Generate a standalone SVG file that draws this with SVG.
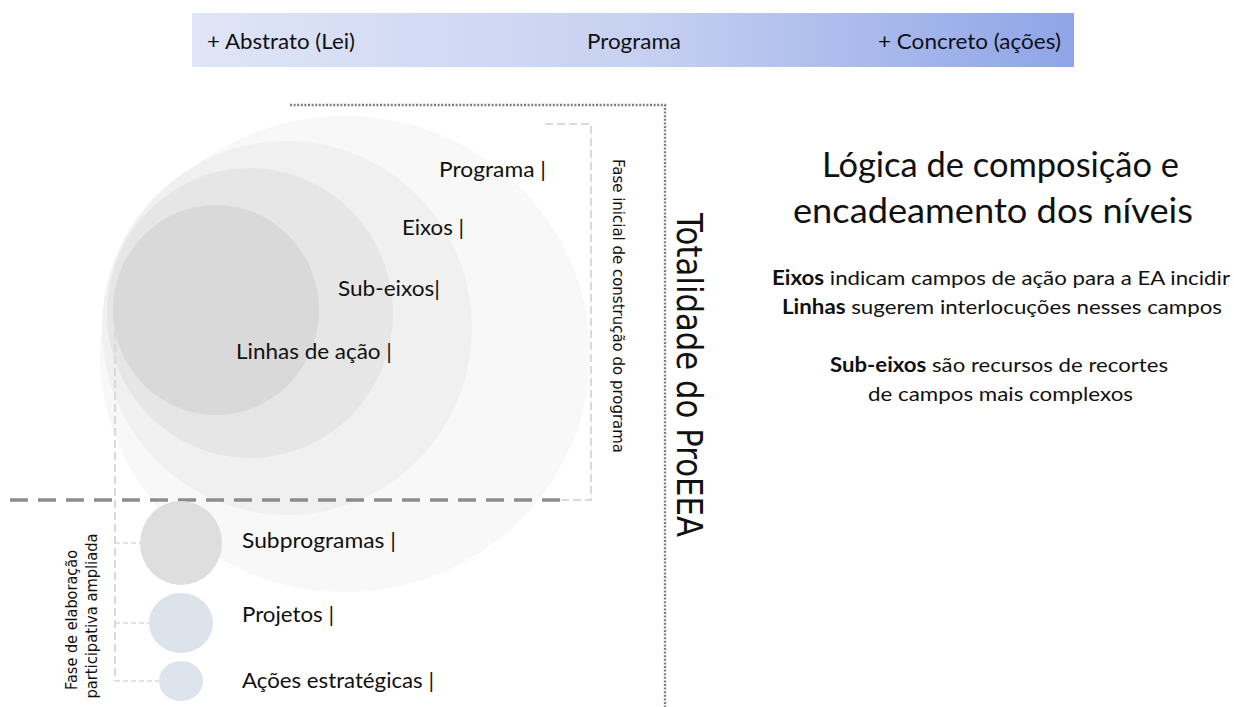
<svg xmlns="http://www.w3.org/2000/svg" width="1234" height="707" viewBox="0 0 1234 707">
<defs>
<linearGradient id="barGrad" x1="0" y1="0" x2="1" y2="0">
<stop offset="0" stop-color="#e0e5f7"/>
<stop offset="0.5" stop-color="#c7d1f1"/>
<stop offset="1" stop-color="#8fa5e7"/>
</linearGradient>
</defs>
<style>
.lbl{font-family:Lato,"Liberation Sans",sans-serif;font-size:21px;fill:#111;}
.body{font-family:Lato,"Liberation Sans",sans-serif;font-size:20px;fill:#111;}
.title{font-family:Lato,"Liberation Sans",sans-serif;font-weight:normal;font-size:35px;fill:#111;}
.geo{font-family:"DejaVu Sans","Open Sans",sans-serif;fill:#111;}
.b{font-weight:bold;}
.lightdash{fill:none;stroke:#d9d9d9;stroke-width:2;stroke-dasharray:8 4;}
.branch{fill:none;stroke:#d9d9d9;stroke-width:1.5;stroke-dasharray:5 3;}
</style>
<rect width="1234" height="707" fill="#ffffff"/>

<g id="bar">
<rect x="192" y="13" width="882" height="54" fill="url(#barGrad)"/>
<text class="lbl" x="207" y="49" textLength="148" lengthAdjust="spacingAndGlyphs">+ Abstrato (Lei)</text>
<text class="lbl" x="587" y="49" textLength="94" lengthAdjust="spacingAndGlyphs">Programa</text>
<text class="lbl" x="878" y="49" textLength="183" lengthAdjust="spacingAndGlyphs">+ Concreto (ações)</text>
</g>

<g id="circles">
<g id="programa">
<ellipse cx="345" cy="354" rx="245" ry="238" fill="#f8f8f8"/>
</g>
<g id="eixos">
<ellipse cx="287" cy="328" rx="185" ry="187" fill="#f0f0f0"/>
</g>
<g id="subeixos">
<ellipse cx="250" cy="313" rx="143" ry="145" fill="#e6e6e6"/>
</g>
<g id="linhas">
<ellipse cx="216" cy="310" rx="103" ry="105" fill="#d9d9d9"/>
</g>
</g>

<g id="connectors">
<polyline class="lightdash" points="545,124 591,124 591,500 560,500"/>
<line x1="10" y1="500" x2="563" y2="500" stroke="#8c8c8c" stroke-width="3.5" stroke-dasharray="18 10"/>
<polyline fill="none" stroke="#808080" stroke-width="2.4" stroke-dasharray="2 1.6" points="290,105 665,105 665,707"/>
<line class="lightdash" x1="115" y1="332" x2="115" y2="681"/>
<line class="branch" x1="115" y1="543" x2="140" y2="543"/>
<line class="branch" x1="115" y1="623" x2="149" y2="623"/>
<line class="branch" x1="115" y1="681" x2="159" y2="681"/>
</g>

<g id="label-programa"><text class="lbl" x="439" y="177" textLength="107" lengthAdjust="spacingAndGlyphs">Programa |</text></g>
<g id="label-eixos"><text class="lbl" x="402" y="235" textLength="62" lengthAdjust="spacingAndGlyphs">Eixos |</text></g>
<g id="label-subeixos"><text class="lbl" x="338" y="296" textLength="102" lengthAdjust="spacingAndGlyphs">Sub-eixos|</text></g>
<g id="label-linhas"><text class="lbl" x="236" y="359" textLength="156" lengthAdjust="spacingAndGlyphs">Linhas de ação |</text></g>

<g id="subprogramas">
<ellipse cx="181" cy="543" rx="41" ry="42" fill="#dedede"/>
<text class="lbl" x="242" y="548" textLength="154" lengthAdjust="spacingAndGlyphs">Subprogramas |</text>
</g>
<g id="projetos">
<ellipse cx="181" cy="623" rx="32" ry="30" fill="#dde3ea"/>
<text class="lbl" x="242" y="622" textLength="92" lengthAdjust="spacingAndGlyphs">Projetos |</text>
</g>
<g id="acoes">
<ellipse cx="181" cy="681" rx="22" ry="20" fill="#dee4eb"/>
<text class="lbl" x="242" y="688" textLength="192" lengthAdjust="spacingAndGlyphs">Ações estratégicas |</text>
</g>

<g id="fase-inicial">
<text class="geo" font-size="15" transform="translate(613,159) rotate(90)" textLength="294" lengthAdjust="spacingAndGlyphs">Fase inicial de construção do programa</text>
</g>
<g id="totalidade">
<text class="geo" font-size="35" transform="translate(677,213) rotate(90)" textLength="324" lengthAdjust="spacingAndGlyphs">Totalidade do ProEEA</text>
</g>
<g id="fase-elaboracao">
<text class="geo" font-size="16" text-anchor="middle" transform="translate(77,620) rotate(-90)" textLength="140" lengthAdjust="spacingAndGlyphs">Fase de elaboração</text>
<text class="geo" font-size="16" text-anchor="middle" transform="translate(97,616) rotate(-90)" textLength="165" lengthAdjust="spacingAndGlyphs">participativa ampliada</text>
</g>

<g id="explicacao">
<text class="title" x="822" y="177" textLength="357" lengthAdjust="spacingAndGlyphs">Lógica de composição e</text>
<text class="title" x="793" y="223" textLength="400" lengthAdjust="spacingAndGlyphs">encadeamento dos níveis</text>
<text class="body" x="772" y="285" textLength="458" lengthAdjust="spacingAndGlyphs"><tspan class="b">Eixos</tspan> indicam campos de ação para a EA incidir</text>
<text class="body" x="782" y="314" textLength="440" lengthAdjust="spacingAndGlyphs"><tspan class="b">Linhas</tspan> sugerem interlocuções nesses campos</text>
<text class="body" x="830" y="372" textLength="338" lengthAdjust="spacingAndGlyphs"><tspan class="b">Sub-eixos</tspan> são recursos de recortes</text>
<text class="body" x="868" y="401" textLength="265" lengthAdjust="spacingAndGlyphs">de campos mais complexos</text>
</g>
</svg>
